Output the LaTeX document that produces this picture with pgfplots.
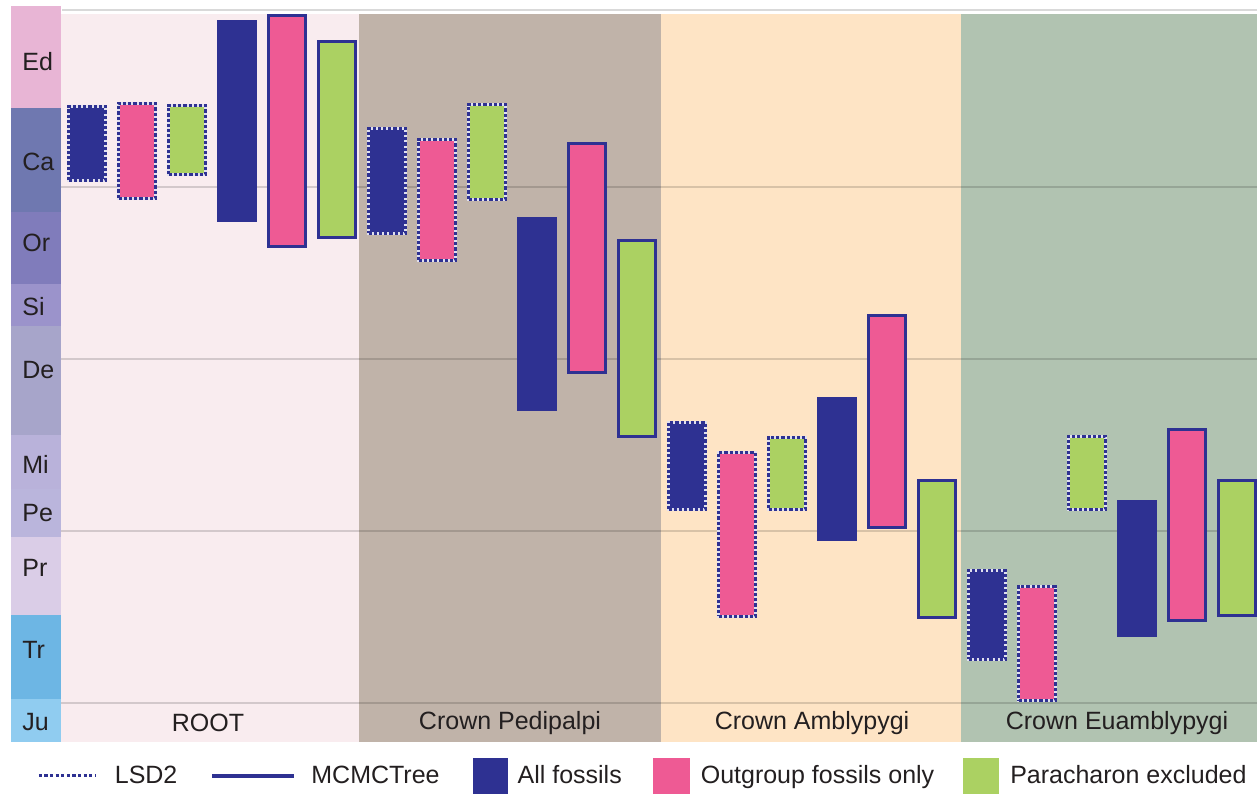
\documentclass[border=0pt]{standalone}
\usepackage{pgfplots}
\pgfplotsset{compat=1.18}
\usepackage{fontspec}
\setmainfont{Liberation Sans}
\definecolor{cnavy}{HTML}{2E3192}
\definecolor{cpink}{HTML}{EE5A94}
\definecolor{cgreen}{HTML}{ABD162}
\definecolor{bRoot}{HTML}{F9ECEF}
\definecolor{bPed}{HTML}{C0B3A9}
\definecolor{bAmb}{HTML}{FEE4C5}
\definecolor{bEua}{HTML}{B1C3B1}
\definecolor{pEd}{HTML}{E8B5D5}
\definecolor{pCa}{HTML}{6F78B0}
\definecolor{pOr}{HTML}{807CBB}
\definecolor{pSi}{HTML}{9B93CB}
\definecolor{pDe}{HTML}{A7A5CA}
\definecolor{pMi}{HTML}{B9B2DA}
\definecolor{pPe}{HTML}{BAB5DC}
\definecolor{pPr}{HTML}{DACDE7}
\definecolor{pTr}{HTML}{6DB6E4}
\definecolor{pJu}{HTML}{90CCF0}
\definecolor{txt}{HTML}{231F20}
\newcommand{\fs}{\fontsize{12.5}{15}\selectfont}
% rectangle: style, xleft, xright, ylow, yhigh
\newcommand{\rect}[5]{\addplot[#1,forget plot] coordinates {(#2,#4) (#3,#4) (#3,#5) (#2,#5)} -- cycle;}
\tikzset{
  lsd/.style={draw=cnavy!15, line width=1.5pt, solid,
    postaction={draw=cnavy, fill=none, line width=1.5pt, dash pattern=on 1.6pt off 1pt}},
  mcmc/.style={draw=cnavy, line width=1.5pt, solid},
}
\begin{document}
\begin{tikzpicture}
\begin{axis}[
  scale only axis, width=628.5pt, height=371pt,
  xmin=-1.24, xmax=23.9, ymin=177.4, ymax=609.0,
  axis line style={draw=none}, xtick=\empty, ytick=\empty,
  legend columns=5,
  legend style={at={(0.0294,-0.0458)}, anchor=west, draw=none, fill=none,
    inner sep=0pt, column sep=0pt, nodes={inner sep=0pt}, font=\fs, text=txt},
]
% group bands
\rect{fill=bRoot, draw=none}{-0.02}{5.93}{177.4}{600.9}
\rect{fill=bPed, draw=none}{5.93}{11.97}{177.4}{600.9}
\rect{fill=bAmb, draw=none}{11.97}{17.97}{177.4}{600.9}
\rect{fill=bEua, draw=none}{17.97}{23.9}{177.4}{600.9}
% geological periods
\rect{fill=pEd, draw=none}{-1.02}{-0.02}{546.2}{605.5}
\rect{fill=pCa, draw=none}{-1.02}{-0.02}{485.7}{546.2}
\rect{fill=pOr, draw=none}{-1.02}{-0.02}{443.8}{485.7}
\rect{fill=pSi, draw=none}{-1.02}{-0.02}{419.4}{443.8}
\rect{fill=pDe, draw=none}{-1.02}{-0.02}{355.9}{419.4}
\rect{fill=pMi, draw=none}{-1.02}{-0.02}{324.5}{355.9}
\rect{fill=pPe, draw=none}{-1.02}{-0.02}{296.6}{324.5}
\rect{fill=pPr, draw=none}{-1.02}{-0.02}{251.3}{296.6}
\rect{fill=pTr, draw=none}{-1.02}{-0.02}{202.4}{251.3}
\rect{fill=pJu, draw=none}{-1.02}{-0.02}{177.4}{202.4}
% grid lines
\addplot[black, opacity=0.15, line width=1pt, forget plot] coordinates {(0,603.2) (23.9,603.2)};
\addplot[black, opacity=0.15, line width=1pt, forget plot] coordinates {(-0.02,500) (23.9,500)};
\addplot[black, opacity=0.15, line width=1pt, forget plot] coordinates {(-0.02,400) (23.9,400)};
\addplot[black, opacity=0.15, line width=1pt, forget plot] coordinates {(-0.02,300) (23.9,300)};
\addplot[black, opacity=0.15, line width=1pt, forget plot] coordinates {(-0.02,200) (23.9,200)};
% period labels
\foreach \lab/\yy in {Ed/572.9, Ca/514.8, Or/467.6, Si/430.4, De/393.8, Mi/339.1, Pe/310.6, Pr/278.6, Tr/230.9, Ju/189.0}{
  \edef\temp{\noexpand\node[anchor=west, inner sep=0pt, font=\noexpand\fs, text=txt] at (axis cs:-0.80,\yy) {\lab};}
  \temp
}
% group labels
\node[font=\fs, text=txt] at (axis cs:2.92,188.4) {ROOT};
\node[font=\fs, text=txt] at (axis cs:8.96,188.4) {Crown Pedipalpi};
\node[font=\fs, text=txt] at (axis cs:15.0,188.4) {Crown Amblypygi};
\node[font=\fs, text=txt] at (axis cs:21.1,188.4) {Crown Euamblypygi};
% ROOT
\rect{fill=cnavy, lsd}{0.13}{0.87}{504.0}{547.0}
\rect{fill=cpink, lsd}{1.13}{1.87}{493.6}{548.8}
\rect{fill=cgreen, lsd}{2.13}{2.87}{507.5}{547.6}
\rect{fill=cnavy, mcmc}{3.13}{3.87}{480.8}{596.5}
\rect{fill=cpink, mcmc}{4.13}{4.87}{465.6}{600.0}
\rect{fill=cgreen, mcmc}{5.13}{5.87}{470.9}{584.8}
% Crown Pedipalpi
\rect{fill=cnavy, lsd}{6.13}{6.87}{473.2}{534.2}
\rect{fill=cpink, lsd}{7.13}{7.87}{457.5}{527.8}
\rect{fill=cgreen, lsd}{8.13}{8.87}{493.0}{548.2}
\rect{fill=cnavy, mcmc}{9.13}{9.87}{370.8}{481.9}
\rect{fill=cpink, mcmc}{10.13}{10.87}{392.3}{525.5}
\rect{fill=cgreen, mcmc}{11.13}{11.87}{355.1}{469.1}
% Crown Amblypygi
\rect{fill=cnavy, lsd}{12.13}{12.87}{312.6}{363.2}
\rect{fill=cpink, lsd}{13.13}{13.87}{250.4}{345.7}
\rect{fill=cgreen, lsd}{14.13}{14.87}{312.6}{354.5}
\rect{fill=cnavy, mcmc}{15.13}{15.87}{295.2}{377.2}
\rect{fill=cpink, mcmc}{16.13}{16.87}{302.2}{425.4}
\rect{fill=cgreen, mcmc}{17.13}{17.87}{249.8}{329.5}
% Crown Euamblypygi
\rect{fill=cnavy, lsd}{18.13}{18.87}{225.4}{277.1}
\rect{fill=cpink, lsd}{19.13}{19.87}{201.5}{267.8}
\rect{fill=cgreen, lsd}{20.13}{20.87}{312.6}{355.1}
\rect{fill=cnavy, mcmc}{21.13}{21.87}{239.4}{317.3}
\rect{fill=cpink, mcmc}{22.13}{22.87}{248.1}{359.1}
\rect{fill=cgreen, mcmc}{23.13}{23.87}{251.0}{329.5}
% legend
\addlegendimage{legend image code/.code={
  \draw[draw=cnavy, line width=1.5pt, dash pattern=on 1.6pt off 1.2pt] (0pt,0pt) -- (28.5pt,0pt);
  \path[draw=none, fill=none] (0pt,-9pt) rectangle (38pt,9pt);}}
\addlegendentry{LSD2}
\addlegendimage{legend image code/.code={
  \draw[draw=cnavy, line width=2pt, solid] (0pt,0pt) -- (41pt,0pt);
  \path[draw=none, fill=none] (-17.5pt,-9pt) rectangle (49.5pt,9pt);}}
\addlegendentry{MCMCTree}
\addlegendimage{legend image code/.code={
  \path[fill=cnavy, draw=none] (0pt,-9pt) rectangle (17.5pt,9pt);
  \path[draw=none, fill=none] (-16.5pt,-9pt) rectangle (22.5pt,9pt);}}
\addlegendentry{All fossils}
\addlegendimage{legend image code/.code={
  \path[fill=cpink, draw=none] (0pt,-9pt) rectangle (18.5pt,9pt);
  \path[draw=none, fill=none] (-15.5pt,-9pt) rectangle (24pt,9pt);}}
\addlegendentry{Outgroup fossils only}
\addlegendimage{legend image code/.code={
  \path[fill=cgreen, draw=none] (0pt,-9pt) rectangle (18pt,9pt);
  \path[draw=none, fill=none] (-14.5pt,-9pt) rectangle (23.5pt,9pt);}}
\addlegendentry{Paracharon excluded}
\end{axis}
\end{tikzpicture}
\end{document}
